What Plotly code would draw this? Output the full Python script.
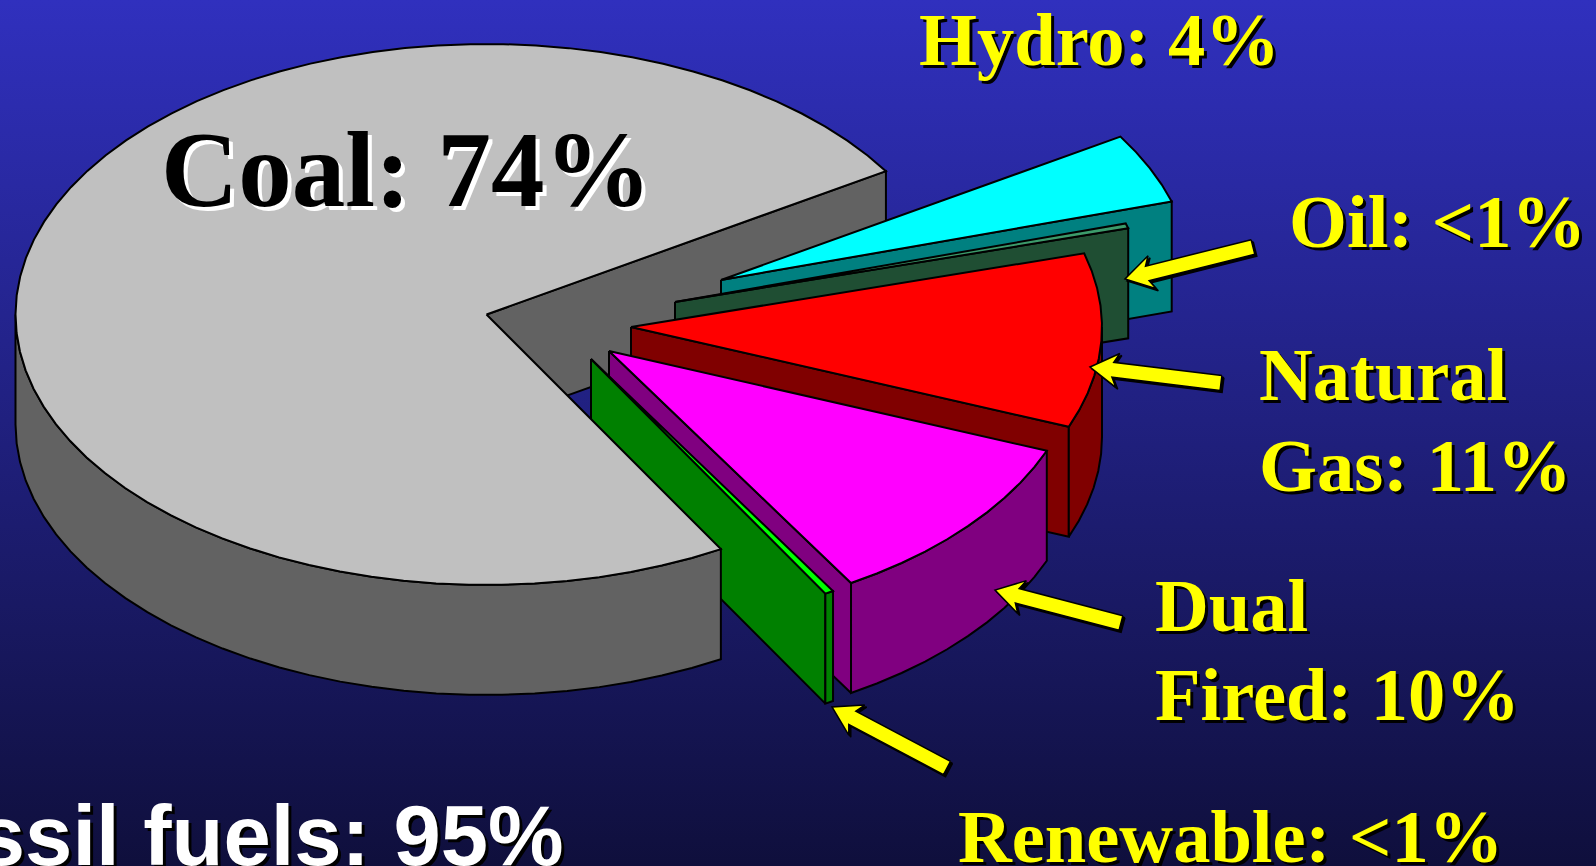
import math
import plotly.graph_objects as go

# ---- data (counter-clockwise from the start angle) ----
categories = ["Coal", "Renewable", "Dual Fired", "Natural Gas", "Oil", "Hydro"]
shares = [74.4, 0.3, 10.4, 10.4, 0.3, 4.2]
label_lines = [
    ("Hydro: 4%", 919, 65, 74.5),
    ("Oil: <1%", 1289, 247, 74.5),
    ("Natural", 1259, 400, 74.5),
    ("Gas: 11%", 1259, 491, 74.5),
    ("Dual", 1155, 631, 74.5),
    ("Fired: 10%", 1155, 720, 74.5),
    ("Renewable: <1%", 958, 862, 74.5),
]

# ---- styles / geometry ----
W, H = 1596, 866
START = 32.0
CX, CY, RX, RY, DEPTH = 486.5, 314.5, 471.0, 270.5, 110.0
TOP = dict(zip(categories, ["#C0C0C0", "#00FF00", "#FF00FF", "#FF0000", "#3C9B6B", "#00FFFF"]))
WALL = dict(zip(categories, ["#626262", "#008000", "#800080", "#800000", "#1F4E33", "#008080"]))
OFFSET = dict(zip(categories, [(0, 0), (104.5, 44.5), (122.5, 36.5), (144.5, 12.5), (188.5, -12.5), (234.5, -34.5)]))
ARROWS = [((1253, 247), (1125, 279)), ((1221, 383), (1090, 367)),
          ((1121, 623), (995, 590)), ((947, 768), (832, 707))]
LW = 2.0

fig = go.Figure()


def poly(xs, ys, fill, lw=LW, line="#000000"):
    fig.add_trace(go.Scatter(
        x=list(xs) + [xs[0]], y=list(ys) + [ys[0]], mode="lines", fill="toself",
        fillcolor=fill, line=dict(color=line, width=lw, simplify=False),
        hoverinfo="skip", showlegend=False))


def pt(cat, deg, drop=0.0):
    ox, oy = OFFSET[cat]
    r = math.radians(deg)
    return CX + ox + RX * math.cos(r), CY + oy - RY * math.sin(r) + drop


def arc(a0, a1, step=4.0):
    n = max(1, int(math.ceil(abs(a1 - a0) / step)))
    return [a0 + (a1 - a0) * i / n for i in range(n + 1)]


spans = {}
a = START
for c, s in zip(categories, shares):
    spans[c] = (a, a + s * 3.6)
    a += s * 3.6


def cut_wall(cat, deg):
    ox, oy = OFFSET[cat]
    ax, ay = CX + ox, CY + oy
    bx, by = pt(cat, deg)
    poly([ax, bx, bx, ax], [ay, by, by + DEPTH, ay + DEPTH], WALL[cat])


def outer_wall(cat):
    a0, a1 = spans[cat]
    # visible part: where the rim faces the viewer (lower half of the ellipse)
    lo, hi = None, None
    for k in range(-1, 3):
        l, h = max(a0, 180 + 360 * k), min(a1, 360 + 360 * k)
        if l < h:
            lo, hi = l, h
    if lo is None:
        return
    angs = arc(lo, hi)
    top = [pt(cat, d) for d in angs]
    bot = [pt(cat, d, DEPTH) for d in reversed(angs)]
    pts = top + bot
    poly([p[0] for p in pts], [p[1] for p in pts], WALL[cat])


def top_face(cat):
    a0, a1 = spans[cat]
    ox, oy = OFFSET[cat]
    pts = [(CX + ox, CY + oy)] + [pt(cat, d) for d in arc(a0, a1)]
    poly([p[0] for p in pts], [p[1] for p in pts], TOP[cat])


def slice3d(cat):
    a0, a1 = spans[cat]
    if math.sin(math.radians(a0 - 90)) < 0:
        cut_wall(cat, a0)
    if math.sin(math.radians(a1 + 90)) < 0:
        cut_wall(cat, a1)
    outer_wall(cat)
    top_face(cat)


def arrow(tail, tip, shaft=15.0, head_w=34.0, head_l=28.0, barb=5.0):
    (tx, ty), (px, py) = tail, tip
    L = math.hypot(px - tx, py - ty)
    ux, uy = (px - tx) / L, (py - ty) / L
    nx, ny = -uy, ux
    bx, by = px - ux * head_l, py - uy * head_l
    cx, cy = bx + ux * barb, by + uy * barb
    P = [(tx + nx * shaft / 2, ty + ny * shaft / 2),
         (cx + nx * shaft / 2, cy + ny * shaft / 2),
         (bx + nx * head_w / 2, by + ny * head_w / 2),
         (px, py),
         (bx - nx * head_w / 2, by - ny * head_w / 2),
         (cx - nx * shaft / 2, cy - ny * shaft / 2),
         (tx - nx * shaft / 2, ty - ny * shaft / 2)]
    poly([p[0] + 2 for p in P], [p[1] + 2 for p in P], "#000000", lw=1.5)
    poly([p[0] for p in P], [p[1] for p in P], "#FFFF00", lw=1.5)


# background gradient
fig.add_trace(go.Scatter(
    x=[0, W, W, 0, 0], y=[0, 0, H, H, 0], mode="lines", fill="toself",
    line=dict(width=0), hoverinfo="skip", showlegend=False,
    fillgradient=dict(type="vertical", colorscale=[[0, "#0F0F3C"], [1, "#3030BE"]])))

# coal: inner wall behind everything else
cut_wall("Coal", spans["Coal"][0])
for c in ["Hydro", "Oil", "Natural Gas", "Dual Fired", "Renewable"]:
    slice3d(c)
outer_wall("Coal")
top_face("Coal")

for tail, tip in ARROWS:
    arrow(tail, tip)


def text(s, x, base, size, color, shadow, fam, off=3, anchor="left", asc=0.891):
    for dx, col in ((off, shadow), (0, color)):
        fig.add_annotation(
            x=(x + dx) / W, y=1 - (base - asc * size + dx) / H, xref="paper", yref="paper",
            text="<b>%s</b>" % s,
            showarrow=False, xanchor=anchor, yanchor="top", borderpad=0, borderwidth=0,
            font=dict(family=fam, size=size, color=col))


SERIF = "Liberation Serif"
SANS = "Liberation Sans"
for s, x, b, sz in label_lines:
    text(s, x, b, sz, "#FFFF00", "#000000", SERIF)
text("Coal: 74%", 161, 206, 107, "#000000", "#FFFFFF", SERIF, off=4)
text("Fossil fuels: 95%", 564, 865, 85, "#FFFFFF", "#000000", SANS, anchor="right", asc=0.905)

fig.update_layout(
    width=W, height=H, margin=dict(l=0, r=0, t=0, b=0, pad=0),
    paper_bgcolor="#1A1A60", plot_bgcolor="rgba(0,0,0,0)", showlegend=False,
    xaxis=dict(range=[0, W], visible=False, fixedrange=True),
    yaxis=dict(range=[H, 0], visible=False, fixedrange=True),
)
fig.write_html("out.html", config=dict(displayModeBar=False),
               post_script="document.body.style.margin='0';document.body.style.overflow='hidden';")
